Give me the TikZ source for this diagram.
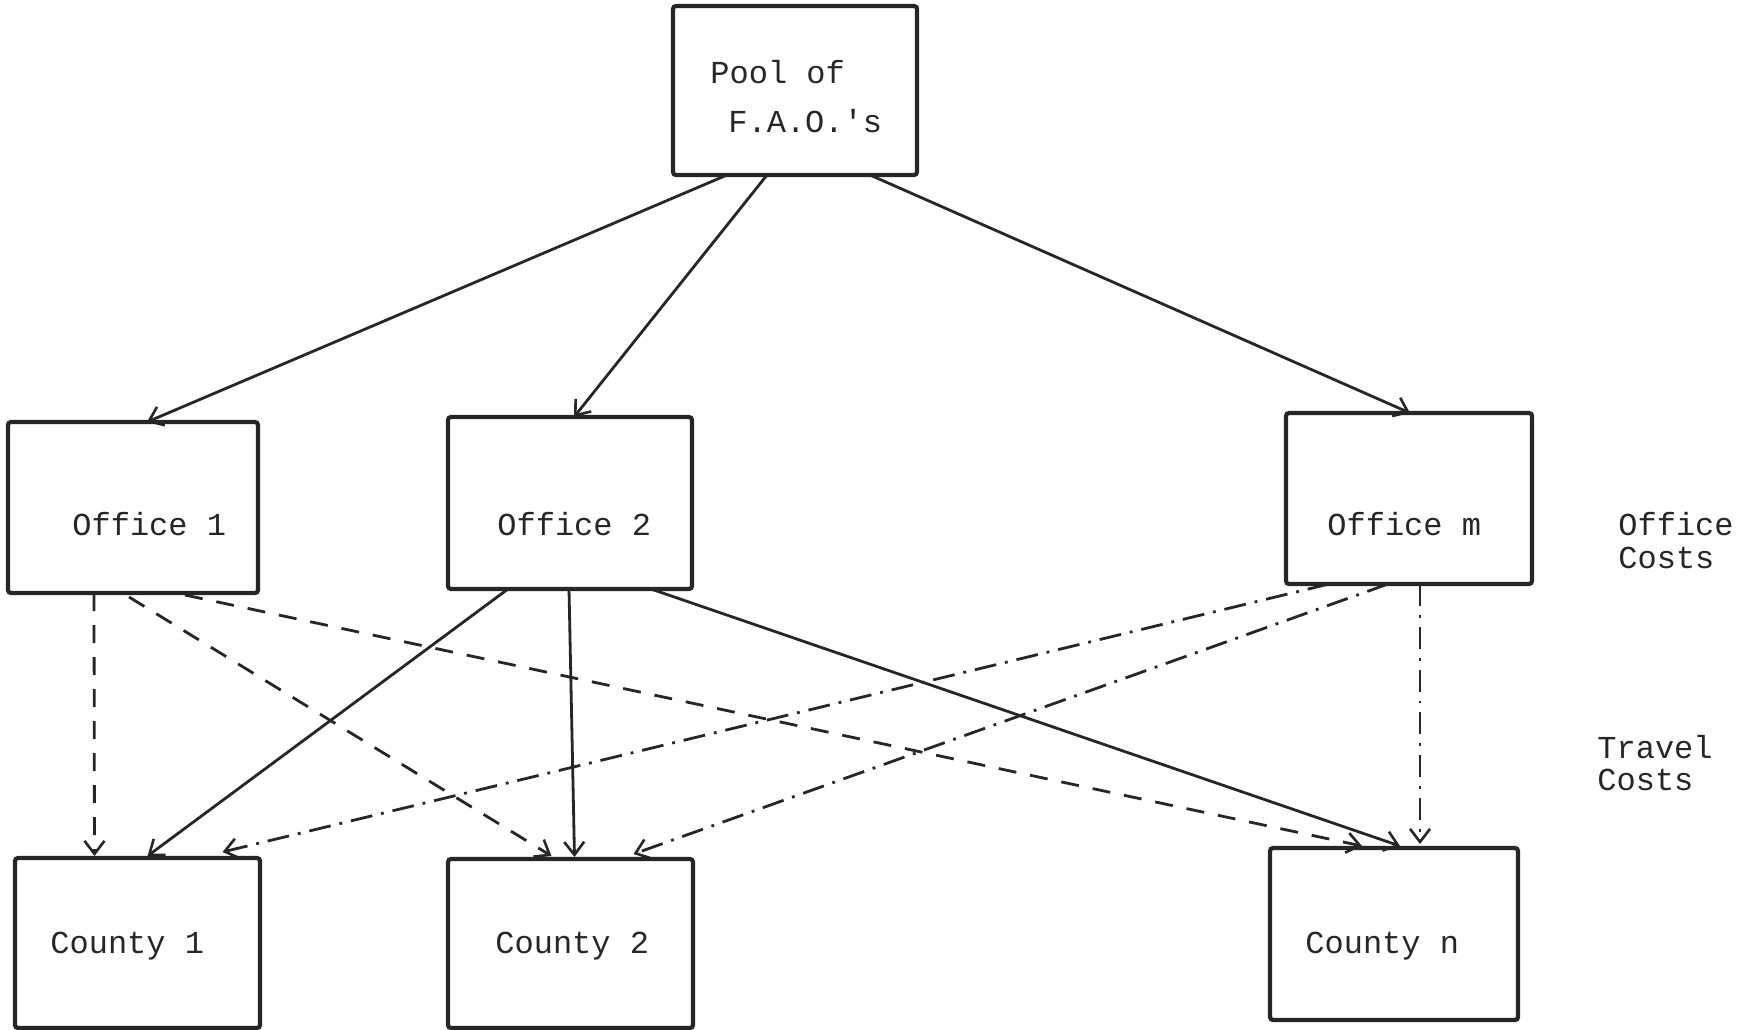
\documentclass[tikz,border=0pt]{standalone}
\usepackage{fontspec}
\setmonofont{Liberation Mono}
\usetikzlibrary{arrows.meta,calc}
\colorlet{ink}{black!85}
\begin{document}
\begin{tikzpicture}[x=0.5pt,y=-0.5pt,
  box/.style={draw=ink, line width=2.1pt, rounded corners=1.5pt, inner sep=0pt, outer sep=0pt},
  txt/.style={font=\ttfamily\fontsize{16}{19}\selectfont, text=ink, inner sep=0pt, anchor=base west},
  conn/.style={draw=ink, line width=1.4pt, -{Straight Barb[length=6.5pt,width=10pt,line width=1.3pt]}},
  dashconn/.style={conn, dash pattern=on 9pt off 7pt},
  dotconn/.style={conn, dash pattern=on 11pt off 4.5pt on 1.4pt off 4.5pt},
]
\useasboundingbox (0,0) rectangle (1759,1029);

% boxes
\node[box, minimum width=122pt, minimum height=84.5pt] (pool) at (795,90.5) {};
\node[box, minimum width=125pt, minimum height=85.5pt] (off1) at (133,507.5) {};
\node[box, minimum width=122pt, minimum height=86pt] (off2) at (570,503) {};
\node[box, minimum width=123pt, minimum height=85.5pt] (offm) at (1409,498.5) {};
\node[box, minimum width=122.5pt, minimum height=85pt] (cty1) at (137.5,943) {};
\node[box, minimum width=122.5pt, minimum height=84.5pt] (cty2) at (570.5,943.5) {};
\node[box, minimum width=124pt, minimum height=86pt] (ctyn) at (1394,934) {};

% texts
\node[txt] (tpool1) at (710,83) {Pool of};
\node[txt] (tpool2) at (728,132) {F.A.O.'s};
\node[txt] (toff1) at (72,535) {Office 1};
\node[txt] (toff2) at (497,535) {Office 2};
\node[txt] (toffm) at (1327,535) {Office m};
\node[txt] (tcty1) at (50,953) {County 1};
\node[txt] (tcty2) at (495,953) {County 2};
\node[txt] (tctyn) at (1305,953) {County n};
\node[txt] (toc1) at (1618,535) {Office};
\node[txt] (toc2) at (1618,568) {Costs};
\node[txt] (ttc1) at (1597,758) {Travel};
\node[txt] (ttc2) at (1597,790) {Costs};

% pool to offices
\draw[conn] ($(pool.south)+(-68,0)$) -- ($(off1.north)+(14,0)$);
\draw[conn] ($(pool.south)+(-28,0)$) -- ($(off2.north)+(4,0)$);
\draw[conn] ($(pool.south)+(75,0)$) -- ($(offm.north)+(1,0)$);

% office 1 (dashed)
\draw[dashconn] ($(off1.south)+(-39,0)$) -- ($(cty1.north)+(-43,-2)$);
\draw[dashconn] ($(off1.south)+(-4,4)$) -- ($(cty2.north)+(-19,-3)$);
\draw[dashconn] ($(off1.south)+(52,2)$) -- ($(ctyn.north)+(-32,-2)$);

% office 2 (solid)
\draw[conn] ($(off2.south)+(-62,0)$) -- ($(cty1.north)+(10,-2)$);
\draw[conn] ($(off2.south)+(-1,0)$) -- ($(cty2.north)+(4,-2)$);
\draw[conn] ($(off2.south)+(81,0)$) -- ($(ctyn.north)+(6,-2)$);

% office m (dash-dot)
\draw[dotconn] ($(offm.south)+(-80,0)$) -- ($(cty1.north)+(85,-6)$);
\draw[dotconn] ($(offm.south)+(-21,0)$) -- ($(cty2.north)+(63,-5)$);
\draw[dotconn] ($(offm.south)+(11,0)$) -- ($(ctyn.north)+(26,-4)$);
\end{tikzpicture}
\end{document}
